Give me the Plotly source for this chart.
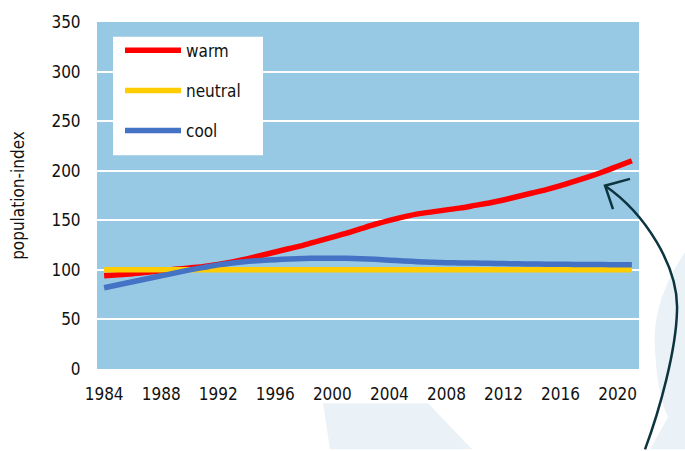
import plotly.graph_objects as go

# Population index per thermal guild, 1984-2021
years = list(range(1984, 2022))

warm = [94, 95, 96, 97.5, 99, 100.5, 102, 103.5, 105.5, 108, 111, 114.5, 118,
        121.5, 125, 129, 133, 137, 141.5, 146, 150, 153.5, 156.5, 158.5, 160.5,
        162.5, 165, 167.5, 170.5, 174, 177.5, 181, 185, 189.5, 194, 199, 204.5, 210]

neutral = [100] * 38

cool = [82, 85, 88, 91, 94, 97, 100, 102.5, 105, 107, 108.5, 109.5, 110.3,
        111, 111.5, 111.8, 111.8, 111.6, 111.2, 110.6, 109.8, 109, 108.2, 107.6,
        107.2, 107, 106.8, 106.6, 106.3, 106.1, 105.9, 105.7, 105.6, 105.5, 105.4,
        105.3, 105.2, 105.1]

series_names = ["warm", "neutral", "cool"]
series_colors = ["#FF0000", "#FFCC00", "#4472C4"]

x_ticks = list(range(1984, 2021, 4))
y_ticks = list(range(0, 351, 50))

FONT = "DejaVu Sans Condensed, DejaVu Sans, sans-serif"
FS = 17
W, H = 685, 451
L, R, T, B = 97, 46, 15, 82
PW, PH = W - L - R, H - T - B


def px(x, y):
    """Pixel position on the page -> paper coordinates."""
    return (x - L) / PW, (H - B - y) / PH


def path(points, cmd):
    out = []
    for c, pts in zip(cmd, points):
        coords = " ".join("%.4f,%.4f" % px(*p) for p in pts)
        out.append(c + coords)
    return " ".join(out)


fig = go.Figure()
for name, vals, col in zip(series_names, [warm, neutral, cool], series_colors):
    fig.add_trace(go.Scatter(
        x=years, y=vals, name=name, mode="lines",
        line=dict(color=col, width=5.5, shape="spline", smoothing=0.6),
        legendgroup=name,
    ))

shapes = []
# faint decorative background forms
bg = "#EAF2F7"
shapes.append(dict(
    type="path", xref="paper", yref="paper", layer="below",
    fillcolor=bg, line=dict(width=0),
    path=path([[(323, 404)], [(428, 404)], [(472, 451)], [(330, 451)]], ["M", "L", "L", "L"]) + " Z",
))
shapes.append(dict(
    type="path", xref="paper", yref="paper", layer="below",
    fillcolor=bg, line=dict(width=0),
    path=path(
        [[(685, 250)], [(668, 275), (652, 310), (655, 350)], [(657, 385), (662, 405), (668, 418)],
         [(650, 451)], [(685, 451)]],
        ["M", "C", "C", "L", "L"]) + " Z",
))

# white legend panel
x0, y0 = px(113, 151)
x1, y1 = px(263, 30)
shapes.append(dict(
    type="rect", xref="paper", yref="paper", layer="above",
    x0=x0, y0=y0, x1=x1, y1=y1, fillcolor="white", line=dict(width=0),
))

# curved arrow pointing at the warm series
arrow_col = "#0D3540"
shapes.append(dict(
    type="path", xref="paper", yref="paper", layer="above",
    line=dict(color=arrow_col, width=2.5),
    path=path(
        [[(645, 451)], [(660, 410), (676, 350), (677, 310)], [(679, 265), (645, 210), (605, 182)]],
        ["M", "C", "C"]),
))
shapes.append(dict(
    type="path", xref="paper", yref="paper", layer="above",
    line=dict(color=arrow_col, width=2.5),
    path=path([[(630, 175)], [(605, 182)], [(613, 206)]], ["M", "L", "L"]),
))

lx, ly = px(120, 26)
fig.update_layout(
    width=W, height=H,
    margin=dict(l=L, r=R, t=T, b=B, pad=0),
    paper_bgcolor="white",
    plot_bgcolor="#97C9E5",
    font=dict(family=FONT, size=FS, color="#111111"),
    shapes=shapes,
    showlegend=True,
    legend=dict(
        x=lx, y=ly, xanchor="left", yanchor="top",
        bgcolor="rgba(0,0,0,0)", borderwidth=0,
        font=dict(family=FONT, size=FS, color="#111111"),
        itemwidth=56, tracegroupgap=15,
    ),
    xaxis=dict(
        range=[1983.5, 2021.5], tickmode="array", tickvals=x_ticks,
        ticktext=[str(v) for v in x_ticks],
        showgrid=False, zeroline=False, showline=False,
        ticks="outside", ticklen=10, tickcolor="rgba(0,0,0,0)",
    ),
    yaxis=dict(
        range=[0, 350], tickmode="array", tickvals=y_ticks,
        showgrid=True, gridcolor="white", gridwidth=2,
        zeroline=False, showline=False,
        ticks="outside", ticklen=12, tickcolor="rgba(0,0,0,0)",
        title=dict(text="population-index", standoff=22,
                   font=dict(family=FONT, size=FS, color="#111111")),
    ),
)

fig.write_html("out.html")
